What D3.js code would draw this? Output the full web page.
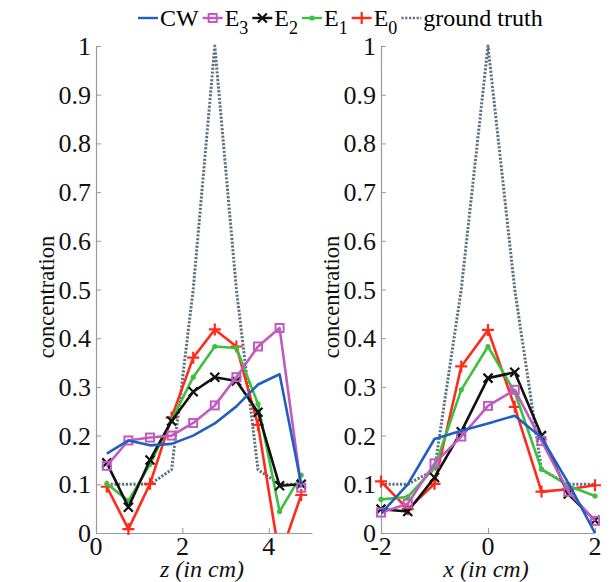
<!DOCTYPE html>
<html>
<head>
<meta charset="utf-8">
<script src="https://cdn.jsdelivr.net/npm/d3@7/dist/d3.min.js"></script>
<style>
  @font-face { font-family: "ChartSerif"; src: local("Liberation Serif"), local("LiberationSerif"); font-style: normal; }
  @font-face { font-family: "ChartSerif"; src: local("Liberation Serif Italic"), local("LiberationSerif-Italic"); font-style: italic; }
</style>
</head>
<body style="margin:0;background:#fff">
<svg id="chart" width="612" height="582"></svg>
<script>
// ---------- data ----------
const zPos = [0.25, 0.75, 1.25, 1.75, 2.25, 2.75, 3.25, 3.75, 4.25, 4.75];
const xPos = [-2, -1.5, -1, -0.5, 0, 0.5, 1, 1.5, 2];

const yTicks = [0, 0.1, 0.2, 0.3, 0.4, 0.5, 0.6, 0.7, 0.8, 0.9, 1];
const yTickLabels = ['0', '0.1', '0.2', '0.3', '0.4', '0.5', '0.6', '0.7', '0.8', '0.9', '1'];
const zTicks = [0, 2, 4];
const zTickLabels = ['0', '2', '4'];
const xTicks = [-2, 0, 2];
const xTickLabels = ['-2', '0', '2'];

// left panel (z)
const zCW    = [0.163, 0.19, 0.18, 0.183, 0.2, 0.225, 0.26, 0.305, 0.326, 0.1];
const zE3    = [0.138, 0.19, 0.196, 0.2, 0.226, 0.262, 0.32, 0.383, 0.421, 0.093];
const zE2    = [0.144, 0.053, 0.15, 0.23, 0.29, 0.32, 0.312, 0.248, 0.097, 0.1];
const zE1    = [0.101, 0.066, 0.141, 0.232, 0.32, 0.383, 0.38, 0.265, 0.044, 0.119];
const zE0    = [0.095, 0.008, 0.101, 0.237, 0.36, 0.418, 0.383, 0.222, -0.05, 0.078];
const zTruth = [0.1, 0.1, 0.1, 0.13, 0.5, 1, 0.5, 0.13, 0.1, 0.1];

// right panel (x)
const xCW    = [0.04, 0.1, 0.193, 0.21, 0.225, 0.241, 0.196, 0.103, 0];
const xE3    = [0.042, 0.06, 0.143, 0.198, 0.261, 0.294, 0.189, 0.085, 0.025];
const xE2    = [0.049, 0.044, 0.114, 0.208, 0.318, 0.33, 0.2, 0.08, 0.026];
const xE1    = [0.069, 0.074, 0.134, 0.294, 0.383, 0.289, 0.131, 0.097, 0.076];
const xE0    = [0.106, 0.049, 0.101, 0.342, 0.417, 0.259, 0.085, 0.09, 0.098];
const xTruth = [0.1, 0.1, 0.13, 0.5, 1, 0.5, 0.13, 0.1, 0.1];

const seriesNames = ['CW', 'E3', 'E2', 'E1', 'E0', 'ground truth'];

// ---------- styles ----------
const serif = '"Liberation Serif", "ChartSerif", "Times New Roman", serif';
const styles = {
  'CW':           { color: '#1f5fc0', marker: null },
  'E3':           { color: '#c05cc0', marker: 'square' },
  'E2':           { color: '#111111', marker: 'x' },
  'E1':           { color: '#3fbf3f', marker: 'dot' },
  'E0':           { color: '#ff2a1a', marker: 'plus' },
  'ground truth': { color: '#5c7282', marker: null, dash: '2.2,1.6' }
};

const svg = d3.select('#chart');
const y = d3.scaleLinear().domain([0, 1]).range([533, 46]);
const labelJobs = [];

// text placed like the legend text (start-anchored), anchoring done by measuring
function addText(g, str, size, x0, y0, anchor, italic) {
  const t = g.append('text')
    .attr('font-family', serif)
    .style('font-family', serif, 'important')
    .attr('font-size', size)
    .attr('x', x0).attr('y', y0)
    .text(str);
  if (italic) t.attr('font-style', 'italic');
  const w = t.node().getComputedTextLength();
  if (anchor === 'middle') t.attr('x', x0 - w / 2);
  if (anchor === 'end') t.attr('x', x0 - w);
  return t;
}

function drawMarker(g, type, color, cx, cy) {
  if (type === 'square') {
    g.append('rect').attr('x', cx - 4).attr('y', cy - 4).attr('width', 8).attr('height', 8)
      .attr('fill', 'none').attr('stroke', color).attr('stroke-width', 2);
  } else if (type === 'x') {
    g.append('path').attr('d', `M${cx - 4.5},${cy - 4.5}L${cx + 4.5},${cy + 4.5}M${cx - 4.5},${cy + 4.5}L${cx + 4.5},${cy - 4.5}`)
      .attr('stroke', color).attr('stroke-width', 2.2);
  } else if (type === 'plus') {
    g.append('path').attr('d', `M${cx - 6},${cy}L${cx + 6},${cy}M${cx},${cy - 6}L${cx},${cy + 6}`)
      .attr('stroke', color).attr('stroke-width', 2.2);
  } else if (type === 'dot') {
    g.append('circle').attr('cx', cx).attr('cy', cy).attr('r', 2.6).attr('fill', color);
  }
}

function panel(id, xs, domain, range, ticks, tickLabels, label, seriesVals) {
  const x = d3.scaleLinear().domain(domain).range(range);
  const g = svg.append('g');

  g.append('clipPath').attr('id', id)
    .append('rect').attr('x', range[0]).attr('y', 40)
    .attr('width', range[1] - range[0] + 4).attr('height', y(0) - 40);

  // axes: lines and inward ticks
  const ya = g.append('g').attr('transform', `translate(${range[0]},0)`)
    .call(d3.axisLeft(y).tickValues(yTicks).tickSizeInner(-5).tickSizeOuter(0));
  const xa = g.append('g').attr('transform', `translate(0,${y(0)})`)
    .call(d3.axisBottom(x).tickValues(ticks).tickSizeInner(-5).tickSizeOuter(0));
  [ya, xa].forEach(a => {
    a.selectAll('text').remove();
    a.select('.domain').attr('stroke', '#9a9a9a').attr('stroke-width', 1.2);
    a.selectAll('.tick line').attr('stroke', '#9a9a9a');
  });

  // lines
  const line = d3.line().x((d, i) => x(xs[i])).y(d => y(d));
  const plot = g.append('g');
  seriesNames.slice().reverse().forEach(name => {
    const vals = seriesVals[name];
    const st = styles[name];
    plot.append('path').datum(vals)
      .attr('d', line)
      .attr('fill', 'none')
      .attr('stroke', st.color)
      .attr('stroke-width', name === 'ground truth' ? 3 : 2.6)
      .attr('stroke-dasharray', st.dash || null)
      .attr('stroke-linejoin', 'round')
      .attr('clip-path', `url(#${id})`);
    if (st.marker) {
      const mg = plot.append('g');
      vals.forEach((v, i) => {
        if (v >= 0) drawMarker(mg, st.marker, st.color, x(xs[i]), y(v));
      });
    }
  });

  labelJobs.push(tg => {
    yTicks.forEach((d, i) => addText(tg, yTickLabels[i], 26, range[0] - 5, y(d) + 9, 'end'));
    ticks.forEach((d, i) => addText(tg, tickLabels[i], 26, x(d), y(0) + 22, 'middle'));
    addText(tg, label, 24, (range[0] + range[1]) / 2 - 2, 577, 'middle', true);
    const rot = tg.append('g').attr('transform', `translate(${range[0] - 42},297) rotate(-90)`);
    addText(rot, 'concentration', 22.5, 0, 0, 'middle');
  });
}

panel('clipL', zPos, [0, 5], [96, 312], zTicks, zTickLabels, 'z (in cm)', {
  'CW': zCW, 'E3': zE3, 'E2': zE2, 'E1': zE1, 'E0': zE0, 'ground truth': zTruth
});
panel('clipR', xPos, [-2, 2], [381, 595], xTicks, xTickLabels, 'x (in cm)', {
  'CW': xCW, 'E3': xE3, 'E2': xE2, 'E1': xE1, 'E0': xE0, 'ground truth': xTruth
});

// ---------- legend ----------
const legend = svg.append('g');
let lx = 138;
const ly = 18;
seriesNames.forEach(name => {
  const st = styles[name];
  legend.append('line').attr('x1', lx).attr('x2', lx + 20).attr('y1', ly).attr('y2', ly)
    .attr('stroke', st.color).attr('stroke-width', name === 'ground truth' ? 2.6 : 2.4)
    .attr('stroke-dasharray', st.dash || null);
  if (st.marker) drawMarker(legend, st.marker, st.color, lx + 10, ly);
  const t = legend.append('text').attr('font-family', serif).style('font-family', serif, 'important')
    .attr('x', lx + 22).attr('y', ly + 8).attr('font-size', 24);
  if (name.startsWith('E')) {
    t.append('tspan').text('E');
    t.append('tspan').attr('dy', 8).attr('font-size', 18).text(name.slice(1));
  } else {
    t.text(name);
  }
  lx += 22 + t.node().getComputedTextLength() + 4;
});

// ---------- tick and axis labels ----------
const texts = svg.append('g').attr('fill', '#111');
labelJobs.forEach(job => job(texts));
</script>
</body>
</html>
